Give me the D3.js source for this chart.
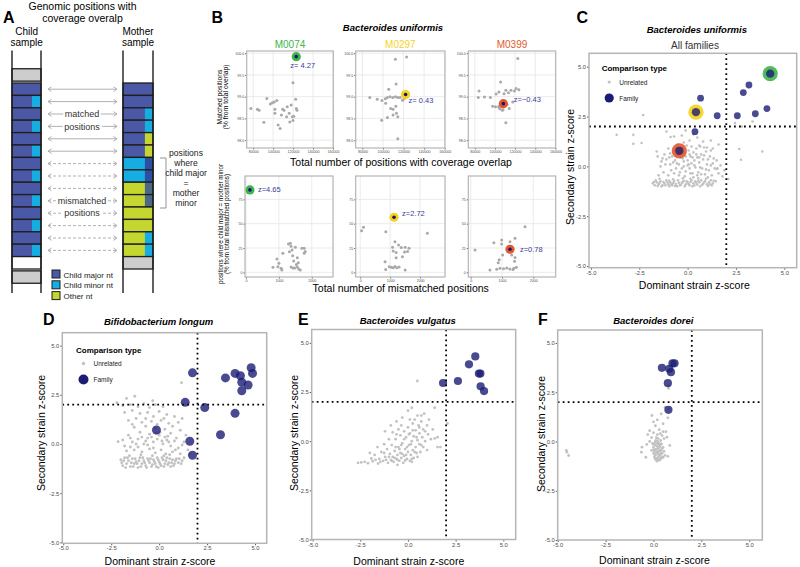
<!DOCTYPE html>
<html><head><meta charset="utf-8">
<script src="https://cdn.jsdelivr.net/npm/d3@7/dist/d3.min.js"></script>
<style>body{margin:0;background:#fff}svg{display:block}</style>
</head><body><svg id="c" width="800" height="567"></svg>
<script>
// ---------------- DATA ----------------
// Panel A schematic
const childRows  = ["B","BC","B","BC","B","BC","B","BC","B","BC","B","BC","B","BC"];
const motherRows = ["B","B","BC","BC","BG","BG","CD","CD","GS","GS","G","G","GC","GC"];
const arrowKinds = ["match","match","match","match","match","match","mis","mis","mis","mis","mis","mis","mis","mis"];
const legendA = ["Child major nt","Child minor nt","Other nt"];
const bracketText = ["positions","where","child major","=","mother","minor"];

// Panel B
const bSamples = ["M0074","M0297","M0399"];
const bTopZ = [4.27, 0.43, -0.43];
const bBottomZ = [4.65, 2.72, 0.78];
const bTopHighlight = [[123200,99.92],[122000,99.05],[108300,98.84]];
const bBottomHighlight = [[120,84.7],[1130,56.6],[1255,23.7]];
const bTopXTicks = [80000,100000,120000,140000,160000];
const bTopYTicks = [98.0,98.5,99.0,99.5,100.0];
const bBotXTicks = [0,1000,2000];
const bBotYTicks = [0,25,50,75];
const bTopM0074 = [[77700,98.73],[84200,98.71],[85900,98.69],[90700,98.41],[93700,98.96],[97200,98.83],[99200,98.86],[101100,98.88],[103700,98.91],[101800,98.71],[101800,98.62],[105000,98.35],[107000,98.27],[108300,98.58],[109600,98.71],[110900,98.69],[113500,98.54],[114100,98.77],[116100,98.62],[116700,98.42],[118000,98.81],[119300,98.54],[119900,98.45],[120600,98.55],[119900,99.32],[122600,98.94],[123200,98.73],[123900,98.69]];
const bTopM0297 = [[87200,98.98],[94400,98.94],[99000,98.91],[102300,98.95],[104300,98.98],[106900,99.0],[109500,98.98],[112100,99.0],[114400,98.98],[116700,98.98],[105600,99.17],[112800,99.29],[112100,99.86],[123000,99.91],[102600,98.85],[107500,98.73],[109800,98.71],[112500,98.78],[113100,98.62],[114400,98.54],[109800,98.58],[104300,98.52],[98700,98.46],[114400,98.03],[119000,98.92],[120700,98.96]];
const bTopM0399 = [[84100,99.13],[83400,98.98],[89500,98.99],[95400,98.98],[101100,99.06],[103900,99.11],[109000,99.07],[110800,99.15],[113400,99.09],[115900,99.15],[119300,99.13],[121000,99.19],[123700,99.16],[122700,99.88],[105600,99.34],[100500,98.77],[110800,98.40],[114200,98.73],[107300,98.69],[97700,98.78],[103900,98.78],[104000,98.75],[106000,98.8],[112000,98.82],[108000,98.7],[105000,98.72],[117600,98.88]];
const bBotM0074 = [[820,5.1],[970,5.8],[1000,9.3],[940,13.7],[1070,4.1],[1090,2.5],[1120,19.5],[1290,29.1],[1350,29.8],[1370,26.7],[1320,21.2],[1400,22.9],[1420,17],[1500,25.7],[1450,11.7],[1560,14.9],[1530,8],[1590,9.8],[1370,5.6],[1430,4.5],[1480,4.5],[1560,5.6],[1600,3.5],[1650,2.5],[1700,24.7],[1770,24.7],[1800,21.4],[1770,19.7]];
const bBotM0297 = [[45,42.8],[110,46.3],[855,41.8],[830,10.9],[850,3],[970,5.8],[1040,5.2],[1100,4.6],[1160,5.9],[1220,4.8],[1300,5.4],[1500,2.4],[1160,31.5],[1280,28.1],[1080,25.7],[1100,21.8],[1200,20.5],[1370,25.4],[1500,25.7],[1630,24.7],[1580,21.4],[1200,14.9],[1410,16],[1480,20.8],[2240,40.1]];
const bBotM0399 = [[140,22.9],[880,9.9],[910,13],[1020,17.8],[990,33.2],[990,29],[740,30.5],[1255,31.5],[1415,35],[1310,17.8],[1415,15.2],[935,4.1],[830,3.2],[1050,3.6],[1150,4.4],[1250,3.5],[1380,4.3],[1460,5.2],[615,2.4],[1735,46.9],[1400,11.5],[1350,2.9]];

// Panels C-F (z-scores)
const zTicks = [-5,-2.5,0,2.5,5];
const cUnrelated = [[-3.67,1.58],[-2.81,1.58],[-2.38,1.17],[-2.81,1.13],[-2.3,2.58],[-1.09,1.75],[-0.88,1.47],[-0.7,1.5],[-0.3,1.55],[0.1,1.3],[0.5,1.45],[0.8,1.25],[1.2,1.3],[1.6,1.1],[2.45,2.17],[2.8,2.0],[3.36,2.25],[2.67,0.87],[2.76,0.33],[3.86,0.75],[2.1,-0.63],[1.5,-0.13],[-0.2,1.2],[0.2,1.0],[0.6,1.05],[-0.5,1.1],[1.0,0.95],[1.3,0.9],[0.3,1.6],[-0.1,1.8],
[-1.6,0.75],[-1.55,0.5],[-1.35,0.25],[-1.4,0.0],[-1.2,0.6],[-1.1,0.35],[-1.0,0.9],[-0.9,0.1],[-0.85,-0.2],[-0.8,0.5],[-0.7,0.75],[-0.65,0.3],[-0.6,-0.1],[-0.5,0.55],[-0.45,0.1],[-0.4,-0.3],[-0.3,0.95],[-0.25,0.4],[-0.2,0.0],[-0.15,0.65],[-0.1,-0.25],[0.0,0.3],[0.05,0.8],[0.1,-0.1],[0.15,0.5],[0.2,0.15],[0.25,-0.35],[0.3,0.7],[0.35,0.3],[0.4,-0.05],[0.45,0.9],[0.5,0.45],[0.55,-0.3],[0.6,0.2],[0.7,0.6],[0.75,-0.1],[0.8,0.35],[0.9,-0.4],[0.95,0.75],[1.0,0.1],[1.1,-0.2],[1.15,0.5],[1.25,-0.45],[1.3,0.15],[1.4,-0.1],[1.5,0.3],[1.6,-0.35],[1.7,0.05],[1.8,-0.5],[1.9,-0.2],[1.2,0.8],[0.65,1.0],[-0.05,1.05],[-0.55,0.95],[-1.25,-0.3],[-1.5,-0.45],[-0.35,0.7],[0.85,0.95],
[-1.8,-0.85],[-1.7,-0.95],[-1.6,-0.8],[-1.5,-0.9],[-1.4,-0.75],[-1.3,-0.95],[-1.2,-0.85],[-1.1,-0.7],[-1.0,-0.9],[-0.9,-0.8],[-0.8,-0.95],[-0.7,-0.75],[-0.6,-0.88],[-0.5,-0.7],[-0.4,-0.95],[-0.3,-0.82],[-0.2,-0.72],[-0.1,-0.9],[0.0,-0.8],[0.1,-0.95],[0.2,-0.7],[0.3,-0.85],[0.4,-0.75],[0.5,-0.92],[0.6,-0.8],[0.7,-0.7],[0.8,-0.88],[0.9,-0.75],[1.0,-0.9],[1.1,-0.8],[1.2,-0.7],[1.3,-0.85],[1.45,-0.75],[-1.65,-0.7],[-1.35,-1.0],[-0.95,-1.0],[-0.55,-1.0],[-0.15,-1.0],[0.25,-1.0],[0.65,-1.0],[1.05,-0.98],[-0.75,-0.65],[-0.25,-0.6],[0.15,-0.62],[0.55,-0.6],[0.95,-0.62],[-1.45,-0.62],
[-1.75,-0.78],[-1.55,-0.98],[-1.45,-0.82],[-1.25,-0.78],[-1.15,-0.95],[-1.05,-0.8],[-0.95,-0.72],[-0.85,-0.9],[-0.75,-0.85],[-0.65,-0.98],[-0.45,-0.82],[-0.35,-0.92],[-0.25,-0.78],[-0.05,-0.75],[0.05,-0.88],[0.15,-0.78],[0.35,-0.95],[0.45,-0.82],[0.55,-0.72],[0.75,-0.92],[0.85,-0.8],[1.15,-0.9],[1.25,-0.95],[1.35,-0.72],
[-1.3,0.4],[-1.15,0.1],[-0.95,0.45],[-0.75,0.2],[-0.55,0.15],[-0.35,0.45],[-0.3,-0.1],[-0.1,0.5],[0.05,0.1],[0.1,0.6],[0.25,0.45],[0.35,0.05],[0.45,0.6],[0.6,0.45],[0.65,-0.05],[0.85,0.55],[1.05,0.35],[1.2,0.05],[1.35,0.4],[1.55,-0.1],[-0.6,0.6],[-0.9,0.65],[-0.2,0.25],[0.0,0.05],[-0.45,-0.45],[0.15,-0.35],[0.5,-0.45],[0.95,-0.15],[-1.0,-0.45],[-0.7,-0.35],[0.3,-0.55],[0.7,-0.4],[1.05,-0.55],[-0.15,-0.5]];
const cFamily = [[3.17,4.08],[2.88,3.7],[0.67,3.42],[1.53,2.54],[2.57,2.54],[3.5,2.64],[4.1,2.9],[0.38,1.74]];

const dUnrelated = [[-2.2,2.1],[-1.7,2.32],[-1.27,2.43],[-0.33,2.2],[-1.9,1.95],[-1.5,2.0],[-1.1,1.9],[-0.8,2.05],[-0.5,1.85],[-0.2,2.0],[0.2,1.9],[-1.8,1.6],[-1.4,1.7],[-1.0,1.55],[-0.6,1.6],[-0.3,1.4],[0.0,1.65],[0.4,1.5],[0.8,1.4],[-1.6,1.2],[-1.2,1.3],[-0.9,1.1],[-0.4,1.15],[0.1,1.2],[0.5,1.05],[1.0,1.1],[1.2,1.3],[-1.3,0.85],[-0.7,0.9],[-0.2,0.8],[0.3,0.75],[0.7,0.9],[1.1,0.7],[1.4,0.45],[1.17,3.12],[-2.14,0.12],[-1.9,0.2],[-1.6,0.45],[-1.0,0.6],[-0.5,0.5],[0.0,0.45],[0.45,0.4],[0.9,0.3],[1.3,0.1],[-1.8,-0.1],[-1.4,0.1],[-1.1,0.25],[-0.8,0.0],[-0.6,0.3],[-0.3,0.1],[-0.1,0.25],[0.2,0.0],[0.4,0.2],[0.6,-0.1],[0.8,0.15],[1.0,-0.2],[1.2,-0.05],[1.5,-0.3],[-1.7,-0.35],[-1.3,-0.3],[-0.9,-0.4],[-0.5,-0.25],[-0.2,-0.45],[0.1,-0.3],[0.35,-0.5],[0.7,-0.4],[1.1,-0.5],[1.3,-0.7],[1.6,-0.5],
[-2.0,-0.8],[-1.9,-1.1],[-1.8,-0.7],[-1.7,-1.0],[-1.6,-0.85],[-1.5,-1.15],[-1.4,-0.75],[-1.3,-1.0],[-1.2,-0.9],[-1.1,-1.2],[-1.0,-0.7],[-0.9,-1.0],[-0.8,-0.85],[-0.7,-1.1],[-0.6,-0.75],[-0.5,-0.95],[-0.4,-1.15],[-0.3,-0.8],[-0.2,-1.0],[-0.1,-0.7],[0.0,-0.9],[0.1,-1.1],[0.2,-0.8],[0.3,-1.0],[0.4,-0.7],[0.5,-0.95],[0.6,-1.15],[0.7,-0.8],[0.8,-1.0],[0.9,-0.75],[1.0,-0.95],[1.2,-0.85],[-0.05,-1.2],[-0.35,-0.6],[0.25,-0.6],[-0.95,-0.55],[0.55,-0.55],[-1.55,-0.6],
[-1.95,-0.95],[-1.85,-0.85],[-1.75,-1.2],[-1.65,-0.7],[-1.45,-0.95],[-1.35,-1.15],[-1.25,-0.75],[-1.15,-1.0],[-1.05,-0.85],[-0.95,-1.15],[-0.85,-0.7],[-0.75,-0.95],[-0.65,-1.2],[-0.55,-0.85],[-0.45,-0.75],[-0.35,-1.05],[-0.25,-0.9],[-0.15,-1.15],[-0.05,-0.8],[0.05,-1.0],[0.15,-0.7],[0.25,-1.15],[0.35,-0.85],[0.45,-1.05],[0.55,-0.75],[0.65,-0.95],[0.75,-1.1],[0.85,-0.85],[1.05,-0.75],[1.15,-1.0],
[-1.5,0.3],[-1.2,0.0],[-0.7,0.15],[-0.4,0.35],[0.05,0.6],[0.3,0.35],[0.6,0.55],[-0.9,0.35],[-0.15,0.55],[0.15,0.15],[-0.6,-0.05],[0.5,0.1],[-1.1,-0.15],[-0.3,-0.2],[0.85,-0.3],[-1.5,-0.15],[-0.7,1.3],[-0.1,1.0],[-1.4,1.0],[0.25,1.3]];
const dFamily = [[1.74,3.62],[1.36,2.12],[2.38,1.85],[-0.14,0.71],[1.6,0.14],[1.74,-0.57],[3.2,0.47],[3.46,3.36],[3.96,3.59],[4.24,3.47],[4.31,3.14],[4.8,3.88],[4.87,3.59],[4.64,3.0],[4.31,2.71],[3.96,1.56]];

const eUnrelated = [[-2.62,-1.1],[-2.45,-1.08],[-2.27,-1.05],[-2.1,-1.12],[-1.92,-0.88],[-1.85,-1.02],[-1.75,-0.7],[-1.57,-1.14],[-1.5,-0.9],[-1.4,-0.55],[-1.3,-1.0],[-1.2,-0.8],[-1.1,-0.4],[-1.05,-1.1],[-0.95,-0.65],[-0.9,-0.95],[-0.85,-0.2],[-0.8,-0.8],[-0.75,-1.05],[-0.7,-0.5],[-0.65,0.1],[-0.6,-0.9],[-0.55,-0.7],[-0.5,-0.3],[-0.45,-1.0],[-0.4,0.3],[-0.4,-0.6],[-0.35,-0.85],[-0.3,-0.1],[-0.25,-1.1],[-0.2,0.5],[-0.2,-0.75],[-0.15,-0.4],[-0.1,0.2],[-0.05,-0.9],[0.0,-0.55],[0.0,0.7],[0.05,-0.2],[0.1,-1.0],[0.1,0.4],[0.15,-0.7],[0.2,0.0],[0.25,0.9],[0.25,-0.45],[0.3,-0.85],[0.3,0.25],[0.35,1.1],[0.4,-0.3],[0.4,0.55],[0.45,-0.6],[0.5,0.05],[0.5,1.3],[0.55,0.8],[0.6,-0.15],[0.6,0.4],[0.65,-0.55],[0.7,1.0],[0.75,0.2],[0.8,0.6],[0.8,-0.3],[0.85,1.4],[0.9,0.0],[1.0,0.8],[1.0,-0.45],[1.05,0.35],[1.1,1.1],[1.2,0.1],[1.3,0.6],[1.4,0.14],[1.55,0.2],[2.07,0.9],[1.4,1.7],[0.49,3.06],[-1.2,0.5],[-0.9,0.8],[-0.6,1.0],[-0.3,1.2],[0.0,1.55],[0.2,1.7],[-0.5,0.6],[-1.0,0.1],[-1.6,-0.3],[-2.0,-0.6],[0.2,-1.05],[0.5,-0.8],[-0.15,-0.98],[1.55,-0.3],[1.7,-0.3],[-0.8,0.45],[-0.55,-1.2],[-1.25,-0.15],
[-1.7,-0.95],[-1.45,-1.05],[-1.25,-0.6],[-1.15,-0.95],[-1.0,-0.8],[-0.85,-1.0],[-0.7,-0.85],[-0.65,-0.3],[-0.55,-0.95],[-0.45,-0.4],[-0.35,-0.2],[-0.3,-0.65],[-0.1,-0.7],[-0.05,-0.3],[0.05,0.35],[0.15,-0.15],[0.2,-0.9],[0.35,-0.55],[0.45,0.2],[0.6,0.7],[0.7,-0.2],[0.9,0.5],[0.25,0.55],[-0.2,0.1],[-0.6,0.35],[-0.35,0.8],[0.1,1.1],[0.7,1.3]];
const eFamily = [[1.84,2.96],[2.62,3.06],[3.2,3.91],[3.53,4.31],[3.72,3.44],[3.8,3.44],[3.81,2.79],[3.99,2.55]];

const fUnrelated = [[-4.52,-0.54],[-4.43,-0.71],[-4.55,-0.45],[-0.6,-0.29],[-0.63,-0.54],[-0.4,-0.8],[-0.35,-0.15],[-0.3,0.35],[-0.2,0.55],[-0.08,1.32],[0.0,1.0],[0.1,0.8],[0.2,1.1],[0.3,0.6],[0.4,1.4],[0.5,0.9],[0.61,1.74],[0.7,0.22],[0.75,1.2],[0.8,1.65],[0.65,0.5],[0.45,0.3],[0.78,2.84],[0.78,2.7],[0.85,-0.2],[0.75,-0.75],[-0.1,0.2],[0.2,0.35],
[-0.05,-0.1],[0.0,-0.3],[0.05,-0.5],[0.1,-0.2],[0.1,-0.7],[0.15,-0.4],[0.15,-0.9],[0.2,-0.1],[0.2,-0.6],[0.25,-0.35],[0.25,-0.8],[0.3,-0.5],[0.3,-0.95],[0.35,-0.2],[0.35,-0.7],[0.4,-0.45],[0.4,-0.85],[0.45,-0.6],[0.5,-0.3],[0.5,-0.8],[0.05,-0.8],[0.0,-0.6],[0.22,0.0],[0.28,-0.15],[0.12,0.05],[0.38,0.05],[0.55,-0.5],[-0.1,-0.45],[0.6,-0.7],[0.18,-1.0],[0.08,-0.05],[0.32,-0.28],[0.42,-0.12],[0.02,-0.42],[0.27,-0.65],
[0.0,-0.15],[0.05,-0.65],[0.1,-0.4],[0.15,-0.55],[0.2,-0.25],[0.2,-0.85],[0.25,-0.5],[0.3,-0.7],[0.3,-0.1],[0.35,-0.45],[0.35,-0.9],[0.4,-0.6],[0.45,-0.35],[0.45,-0.8],[0.1,-0.9],[0.15,0.2],[0.25,0.15],[0.0,0.45],[0.35,0.4],[-0.2,0.0],[0.5,0.5],[0.55,0.15]];
const fFamily = [[0.44,3.74],[0.82,3.69],[0.91,3.52],[0.99,3.97],[1.1,3.97],[0.75,2.96],[0.78,1.61]];

// ---------------- STYLE ----------------
const FONT = "'Liberation Sans', Arial, Helvetica, sans-serif";
const ntCol = {B:"#4a58a6", C:"#16aee2", G:"#c4d62f", D:"#2d4fa1", S:"#4b6889", X:"#cdcdcd", W:"#ffffff"};
const sampleCol = ["#3db54b","#f6d21c","#e2582b"];
const navy = "#1b1d74";
const grayPt = "#c2c2c2";

const svg = d3.select("#c").attr("font-family", FONT);
svg.append("rect").attr("width",800).attr("height",567).attr("fill","#fff");

function text(g,x,y,s,o={}){
  const t=g.append("text").attr("x",x).attr("y",y).text(s)
    .attr("font-size",o.size||10).attr("fill",o.fill||"#000")
    .attr("text-anchor",o.anchor||"start");
  if(o.weight) t.attr("font-weight",o.weight);
  if(o.style) t.attr("font-style",o.style);
  if(o.rotate!=null) t.attr("transform",`rotate(${o.rotate},${x},${y})`);
  return t;
}

function panel(c){
  const g=svg.append("g");
  const x=d3.scaleLinear().domain(c.xd).range([c.x0,c.x1]);
  const y=d3.scaleLinear().domain(c.yd).range([c.y1,c.y0]);
  if(c.grid){
    g.selectAll(null).data(c.xt).join("line").attr("x1",d=>x(d)).attr("x2",d=>x(d))
      .attr("y1",c.y0).attr("y2",c.y1).attr("stroke","#e6e6e6").attr("stroke-width",0.8);
    g.selectAll(null).data(c.yt).join("line").attr("y1",d=>y(d)).attr("y2",d=>y(d))
      .attr("x1",c.x0).attr("x2",c.x1).attr("stroke","#e6e6e6").attr("stroke-width",0.8);
  }
  const ax=g.append("g").attr("transform",`translate(0,${c.y1})`)
    .call(d3.axisBottom(x).tickValues(c.xt).tickFormat(c.xf).tickSize(c.ts).tickPadding(c.tp));
  const ay=g.append("g").attr("transform",`translate(${c.x0},0)`)
    .call(d3.axisLeft(y).tickValues(c.yt).tickFormat(c.yf).tickSize(c.ts).tickPadding(c.tp));
  [ax,ay].forEach(a=>{
    a.select(".domain").remove();
    a.selectAll("line").attr("stroke","#333").attr("stroke-width",0.8);
    a.selectAll("text").attr("font-size",c.fs).attr("fill","#4d4d4d").attr("font-family",FONT);
  });
  const plot=g.append("g");
  g.append("rect").attr("x",c.x0).attr("y",c.y0).attr("width",c.x1-c.x0).attr("height",c.y1-c.y0)
    .attr("fill","none").attr("stroke","#b5b5b5").attr("stroke-width",c.bw||1.3);
  return {g,x,y,plot};
}

// ---------------- PANEL A ----------------
const gA=svg.append("g");
text(gA,3,23,"A",{size:16,weight:"bold"});
text(gA,82.5,10,"Genomic positions with",{size:10.5,anchor:"middle"});
text(gA,82.5,22,"coverage overalp",{size:10.5,anchor:"middle"});
text(gA,26.7,34.5,"Child",{size:10,anchor:"middle"});
text(gA,26.7,45.5,"sample",{size:10,anchor:"middle"});
text(gA,138,34.5,"Mother",{size:10,anchor:"middle"});
text(gA,138,45.5,"sample",{size:10,anchor:"middle"});

const rowY=d3.scaleLinear().domain([0,1]).range([83,95.4]);
const rowH=12.4;
function cell(x0,x1,yTop,code,frac){
  const w=x1-x0;
  gA.append("rect").attr("x",x0).attr("y",yTop).attr("width",w).attr("height",rowH).attr("fill",ntCol[code[0]]);
  if(code.length>1){
    gA.append("rect").attr("x",x1-w*frac).attr("y",yTop).attr("width",w*frac).attr("height",rowH).attr("fill",ntCol[code[1]]);
  }
  gA.append("rect").attr("x",x0).attr("y",yTop).attr("width",w).attr("height",rowH)
    .attr("fill","none").attr("stroke","#1e1e1e").attr("stroke-width",1.3);
}
const childX=[12,41], motherX=[123,153];
cell(childX[0],childX[1],rowY(-1.15),"X",0);
childRows.forEach((c,i)=>cell(childX[0],childX[1],rowY(i),c,0.31));
cell(childX[0],childX[1],rowY(14),"W",0);
cell(childX[0],childX[1],rowY(15.15),"X",0);
motherRows.forEach((c,i)=>cell(motherX[0],motherX[1],rowY(i),c,0.27));
cell(motherX[0],motherX[1],rowY(14),"X",0);
[childX,motherX].forEach(xs=>xs.forEach(xx=>{
  gA.append("line").attr("x1",xx).attr("x2",xx).attr("y1",50.5).attr("y2",293)
    .attr("stroke","#1e1e1e").attr("stroke-width",1.4);
}));
// arrows
arrowKinds.forEach((k,i)=>{
  const yc=rowY(i)+rowH/2;
  const l=gA.append("line").attr("x1",48).attr("x2",117).attr("y1",yc).attr("y2",yc)
    .attr("stroke","#a8a8a8").attr("stroke-width",0.9);
  if(k==="mis") l.attr("stroke-dasharray","3,2");
  gA.append("path").attr("d",`M51.5,${yc-2.3}L48,${yc}L51.5,${yc+2.3}M113.5,${yc-2.3}L117,${yc}L113.5,${yc+2.3}`)
    .attr("fill","none").attr("stroke","#a8a8a8").attr("stroke-width",0.9);
});
function lbl(i,s){
  const yc=rowY(i)+rowH/2;
  const t=text(gA,82,yc+3.2,s,{size:9,anchor:"middle",fill:"#333"});
  const bb=t.node().getBBox();
  gA.insert("rect",()=>t.node()).attr("x",bb.x-1.5).attr("y",yc-4).attr("width",bb.width+3).attr("height",8).attr("fill","#fff");
}
lbl(2,"matched"); lbl(3,"positions"); lbl(9,"mismatched"); lbl(10,"positions");
// bracket
gA.append("path").attr("d","M160,158H166V208H160").attr("fill","none").attr("stroke","#888").attr("stroke-width",0.9);
bracketText.forEach((s,i)=>text(gA,186,156+i*10,s,{size:8.6,anchor:"middle",fill:"#222"}));
// legend
const legCodes=["B","C","G"];
legendA.forEach((s,i)=>{
  const yt=270+i*10.8;
  gA.append("rect").attr("x",52).attr("y",yt).attr("width",8).attr("height",8)
    .attr("fill",ntCol[legCodes[i]]).attr("stroke","#1e1e1e").attr("stroke-width",1);
  text(gA,63.5,yt+7.5,s,{size:8,fill:"#222"});
});

// ---------------- PANEL B ----------------
const gB=svg.append("g");
text(gB,211.5,23,"B",{size:16,weight:"bold"});
text(gB,393,31,"Bacteroides uniformis",{size:9.5,weight:"bold",style:"italic",anchor:"middle"});
const bTopBoxes=[[246.7,333.3],[355.7,445],[468.3,555.7]];
const bBotBoxes=[[245,333],[355.7,445],[468.3,555.7]];
const bBotXDomains=[[-30,2645],[-150,2830],[-77,2715]];
const bTopData=[bTopM0074,bTopM0297,bTopM0399];
const bBotData=[bBotM0074,bBotM0297,bBotM0399];
const topLblOff=[[-6,11.5],[3,9],[10.5,-1.5]];
const botLblOff=[[8,2.5],[8,-1.5],[10,2.5]];
bSamples.forEach((s,i)=>{
  const [tx0,tx1]=bTopBoxes[i];
  text(gB,(tx0+tx1)/2,48,s,{size:10,anchor:"middle",fill:sampleCol[i]});
  const pt=panel({x0:tx0,x1:tx1,y0:51,y1:148,xd:[73500,160300],yd:[97.82,100.05],
    xt:bTopXTicks,yt:bTopYTicks,xf:d=>String(d),yf:d=>d.toFixed(1),ts:1.5,tp:1,fs:3.6,grid:true,bw:1.2});
  pt.plot.selectAll("circle").data(bTopData[i]).join("circle")
    .attr("cx",d=>pt.x(d[0])).attr("cy",d=>pt.y(d[1])).attr("r",1.5).attr("fill","#a9a9a9");
  const h=bTopHighlight[i];
  pt.plot.append("circle").attr("cx",pt.x(h[0])).attr("cy",pt.y(h[1])).attr("r",4.6).attr("fill",sampleCol[i]);
  pt.plot.append("circle").attr("cx",pt.x(h[0])).attr("cy",pt.y(h[1])).attr("r",1.8).attr("fill","#15157a");
  text(pt.plot,pt.x(h[0])+topLblOff[i][0],pt.y(h[1])+topLblOff[i][1],
    (bTopZ[i]<0?"z=\u2212":"z= ")+Math.abs(bTopZ[i]).toFixed(2),{size:7.5,fill:"#3a3d99"});

  const [bx0,bx1]=bBotBoxes[i];
  const pb=panel({x0:bx0,x1:bx1,y0:176,y1:277,xd:bBotXDomains[i],yd:[-4.8,99],
    xt:bBotXTicks,yt:bBotYTicks,xf:d=>String(d),yf:d=>String(d),ts:1.5,tp:1,fs:3.6,grid:true,bw:1.2});
  pb.plot.selectAll("circle").data(bBotData[i]).join("circle")
    .attr("cx",d=>pb.x(d[0])).attr("cy",d=>pb.y(d[1])).attr("r",1.5).attr("fill","#a9a9a9");
  const hb=bBottomHighlight[i];
  pb.plot.append("circle").attr("cx",pb.x(hb[0])).attr("cy",pb.y(hb[1])).attr("r",4.6).attr("fill",sampleCol[i]);
  pb.plot.append("circle").attr("cx",pb.x(hb[0])).attr("cy",pb.y(hb[1])).attr("r",1.8).attr("fill","#15157a");
  text(pb.plot,pb.x(hb[0])+botLblOff[i][0],pb.y(hb[1])+botLblOff[i][1],"z="+bBottomZ[i].toFixed(2),{size:7.5,fill:"#3a3d99"});
});
text(gB,401,166,"Total number of positions with coverage overlap",{size:10.5,anchor:"middle"});
text(gB,400.7,292,"Total number of mismatched positions",{size:10.5,anchor:"middle"});
text(gB,222,97,"Matched positions",{size:6.8,anchor:"middle",rotate:-90});
text(gB,227.5,97,"(% from total overlap)",{size:6.8,anchor:"middle",rotate:-90});
text(gB,223,224,"positions where child major = mother minor",{size:6.3,anchor:"middle",rotate:-90});
text(gB,229,224,"(% from total mismatched positions)",{size:6.3,anchor:"middle",rotate:-90});

// ---------------- PANELS C-F ----------------
function zPanel(c){
  const p=panel({...c,xt:zTicks,yt:zTicks,xf:d=>d.toFixed(1),yf:d=>d.toFixed(1),ts:2,tp:1,fs:5.8,bw:1.5});
  p.plot.selectAll(".u").data(c.unrel).join("circle")
    .attr("cx",d=>p.x(d[0])).attr("cy",d=>p.y(d[1])).attr("r",c.ur).attr("fill",grayPt);
  p.plot.selectAll(".f").data(c.fam).join("circle")
    .attr("cx",d=>p.x(d[0])).attr("cy",d=>p.y(d[1])).attr("r",c.fr).attr("fill",navy).attr("fill-opacity",0.8);
  p.dots=()=>{
    p.plot.append("line").attr("x1",p.x(2)).attr("x2",p.x(2)).attr("y1",c.y0).attr("y2",c.y1)
      .attr("stroke","#000").attr("stroke-width",1.8).attr("stroke-dasharray","1.8,3.2");
    p.plot.append("line").attr("x1",c.x0).attr("x2",c.x1).attr("y1",p.y(2)).attr("y2",p.y(2))
      .attr("stroke","#000").attr("stroke-width",1.8).attr("stroke-dasharray","1.8,3.2");
  };
  text(p.g,c.xtx,c.xty,"Dominant strain z-score",{size:10.5,anchor:"middle"});
  text(p.g,c.ytx,c.yty,"Secondary strain z-score",{size:10.5,anchor:"middle",rotate:-90});
  text(p.g,(c.x0+c.x1)/2+c.tdx,c.tty,c.title,{size:9.5,weight:"bold",style:"italic",anchor:"middle"});
  return p;
}
function legend(g,x,y,big,small){
  text(g,x,y,"Comparison type",{size:8,weight:"bold"});
  g.append("circle").attr("cx",x+7.5).attr("cy",y+11).attr("r",small).attr("fill",grayPt);
  text(g,x+17.5,y+13.5,"Unrelated",{size:6.5,fill:"#222"});
  g.append("circle").attr("cx",x+7.5).attr("cy",y+27).attr("r",big).attr("fill",navy);
  text(g,x+17.5,y+29.5,"Family",{size:6.5,fill:"#222"});
}

// C
text(svg,576.5,23,"C",{size:16,weight:"bold"});
const pC=zPanel({x0:589,x1:796.7,y0:53.3,y1:267.7,xd:[-5.1,5.64],yd:[-5.08,5.67],unrel:cUnrelated,fam:cFamily,ur:1.3,fr:3.4,
  xtx:694.3,xty:289,ytx:574,yty:167,title:"Bacteroides uniformis",tdx:4,tty:33});
pC.dots();
bTopZ.forEach((zx,i)=>{
  pC.plot.append("circle").attr("cx",pC.x(zx)).attr("cy",pC.y(bBottomZ[i])).attr("r",7.6).attr("fill",sampleCol[i]).attr("fill-opacity",0.9);
  pC.plot.append("circle").attr("cx",pC.x(zx)).attr("cy",pC.y(bBottomZ[i])).attr("r",4.2).attr("fill",navy).attr("fill-opacity",0.8);
});
text(svg,695,48.5,"All families",{size:10,anchor:"middle",fill:"#333"});
legend(pC.g,601.7,71,4.6,1.6);

// D
text(svg,43,325,"D",{size:16,weight:"bold"});
const pD=zPanel({x0:62.3,x1:266.7,y0:332.7,y1:543.3,xd:[-5.05,5.61],yd:[-5.05,5.66],unrel:dUnrelated,fam:dFamily,ur:1.45,fr:4.5,
  xtx:160,xty:565,ytx:44.5,yty:433,title:"Bifidobacterium longum",tdx:-6,tty:324.5});
pD.dots();
legend(pD.g,76,352.5,5,1.7);

// E
text(svg,298,325,"E",{size:16,weight:"bold"});
const pE=zPanel({x0:311.7,x1:515.7,y0:329.5,y1:539.5,xd:[-5.05,5.65],yd:[-5.0,5.68],unrel:eUnrelated,fam:eFamily,ur:1.4,fr:4.1,
  xtx:408.8,xty:565,ytx:298,yty:433,title:"Bacteroides vulgatus",tdx:-6,tty:324});
pE.dots();

// F
text(svg,538,325,"F",{size:16,weight:"bold"});
const pF=zPanel({x0:557.7,x1:762.3,y0:330,y1:540,xd:[-5.0,5.68],yd:[-5.0,5.66],unrel:fUnrelated,fam:fFamily,ur:1.4,fr:4.1,
  xtx:654.5,xty:564,ytx:544.5,yty:434,title:"Bacteroides dorei",tdx:-6.7,tty:324});
pF.dots();
</script></body></html>
